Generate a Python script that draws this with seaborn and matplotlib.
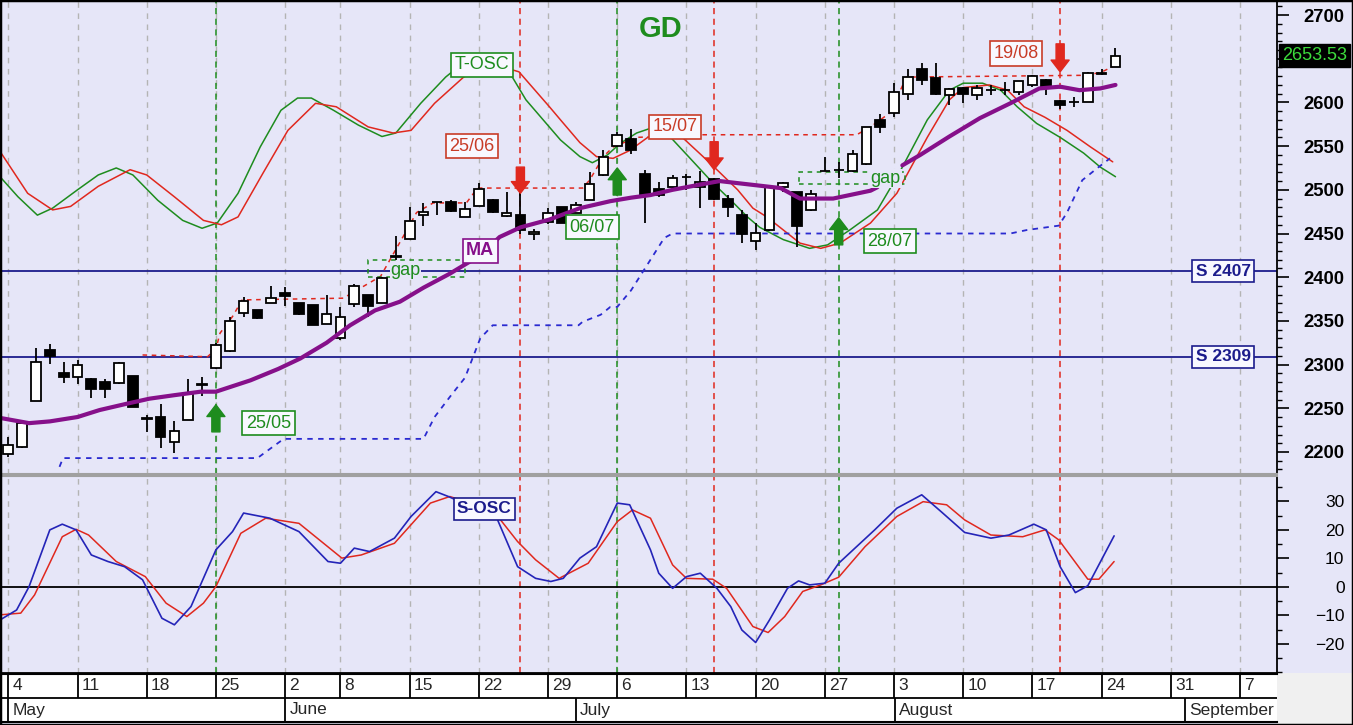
import numpy as np
import pandas as pd
import seaborn as sns
import matplotlib.pyplot as plt
from matplotlib.patches import Rectangle
from matplotlib.ticker import MultipleLocator

# --- Data ---
# daily candles, trading-day index 0 = 4 May
opens = [2198, 2206, 2258, 2317, 2290, 2286, 2284, 2280, 2279, 2287,
         2239, 2240, 2211, 2237, 2278, 2296, 2315, 2359, 2363, 2370,
         2382, 2370, 2368, 2347, 2330, 2369, 2380, 2371, 2424, 2444,
         2471, 2486, 2486, 2469, 2481, 2488, 2470, 2471, 2449, 2463,
         2480, 2473, 2488, 2517, 2550, 2558, 2518, 2501, 2503, 2515,
         2503, 2512, 2489, 2471, 2441, 2454, 2503, 2497, 2477, 2522,
         2523, 2521, 2529, 2580, 2588, 2610, 2638, 2628, 2608, 2616,
         2608, 2614, 2614, 2612, 2620, 2626, 2602, 2601, 2601, 2634, 2641]
highs = [2217, 2233, 2319, 2324, 2303, 2305, 2285, 2284, 2303, 2287,
         2242, 2255, 2236, 2284, 2286, 2325, 2355, 2377, 2363, 2390,
         2389, 2371, 2368, 2380, 2366, 2392, 2380, 2400, 2447, 2480,
         2485, 2486, 2488, 2486, 2508, 2490, 2497, 2502, 2455, 2479,
         2480, 2486, 2520, 2545, 2566, 2570, 2523, 2509, 2517, 2518,
         2522, 2513, 2494, 2477, 2462, 2504, 2509, 2498, 2500, 2538,
         2532, 2546, 2572, 2587, 2622, 2638, 2645, 2645, 2616, 2618,
         2620, 2620, 2623, 2624, 2631, 2627, 2603, 2606, 2635, 2638, 2662]
lows = [2194, 2204, 2258, 2301, 2279, 2278, 2262, 2262, 2278, 2251,
        2223, 2205, 2199, 2237, 2264, 2295, 2314, 2355, 2352, 2370,
        2367, 2357, 2345, 2347, 2328, 2366, 2355, 2370, 2420, 2444,
        2459, 2471, 2475, 2469, 2481, 2473, 2469, 2450, 2443, 2461,
        2462, 2473, 2488, 2516, 2549, 2541, 2462, 2492, 2500, 2500,
        2479, 2488, 2469, 2439, 2431, 2453, 2498, 2435, 2476, 2521,
        2513, 2520, 2528, 2565, 2583, 2603, 2620, 2609, 2597, 2599,
        2603, 2608, 2609, 2609, 2618, 2608, 2593, 2595, 2600, 2631, 2640]
closes = [2208, 2233, 2303, 2310, 2286, 2300, 2272, 2272, 2302, 2251,
          2238, 2217, 2224, 2268, 2277, 2322, 2350, 2373, 2353, 2376,
          2378, 2358, 2345, 2358, 2355, 2390, 2367, 2399, 2423, 2464,
          2475, 2486, 2476, 2478, 2501, 2475, 2473, 2454, 2452, 2474,
          2462, 2483, 2507, 2537, 2563, 2545, 2494, 2494, 2514, 2515,
          2509, 2489, 2480, 2450, 2451, 2503, 2508, 2459, 2495, 2522,
          2523, 2541, 2572, 2572, 2612, 2629, 2626, 2610, 2615, 2610,
          2616, 2614, 2614, 2624, 2630, 2618, 2597, 2601, 2634, 2632, 2653.53]

# moving average (None = break in the line)
ma_days = [-0.6, 1.5, 3.0, 5.0, 6.6, 8.5, 10.2, 12.0, 13.9, 15.0, 17.5, 19.5,
           21.1, 23.0, 24.7, 26.5, 28.3, 30.0, 31.9, 34.1, 35.5, 37.0, 39.1,
           41.3, 43.5, 45.0, 46.4, 48.0, 50.0, 51.4, 53.6, 55.8, 57.2, 59.6,
           62.3, 62.8, 63.7, 64.6, 65.9, 68.0, 70.2, 72.4, 74.5, 76.0, 77.4,
           78.9, 80.0]
ma_vals = [2239, 2233, 2235, 2240, 2248, 2255, 2261, 2265, 2269, 2269, 2282,
           2295, 2307, 2325, 2345, 2362, 2372, 2388, 2404, 2425, 2446, 2457,
           2466, 2479, 2487, 2491, 2494, 2500, 2506, 2510, 2506, 2502, 2490,
           2490, 2499, 2503, None, 2528, 2540, 2561, 2582, 2599, 2616, 2618,
           2614, 2616, 2620]

# T-OSC (two lines drawn on the price scale)
tosc_g_days = [-0.6, 0.7, 2.1, 3.2, 5.0, 6.5, 7.8, 9.0, 10.8, 12.6, 14.0, 15.1,
               16.6, 18.2, 19.7, 20.9, 21.9, 23.5, 25.3, 27.0, 28.0, 29.8, 31.6,
               33.0, 34.5, 36.0, 37.4, 39.9, 41.3, 42.2, 43.3, 44.2, 45.4, 46.7,
               47.8, 49.5, 50.9, 52.4, 53.4, 54.3, 56.0, 57.9, 59.2, 60.8, 62.8,
               64.4, 66.4, 68.0, 69.0, 70.4, 71.7, 72.9, 74.3, 76.0, 77.7, 78.9,
               80.0]
tosc_g_vals = [2515, 2492, 2471, 2479, 2500, 2517, 2525, 2517, 2488, 2465, 2456,
               2462, 2496, 2549, 2591, 2605, 2605, 2591, 2574, 2561, 2565, 2599,
               2629, 2647, 2650, 2640, 2603, 2557, 2538, 2531, 2540, 2553, 2565,
               2572, 2561, 2532, 2508, 2485, 2469, 2457, 2443, 2433, 2437, 2454,
               2477, 2520, 2580, 2614, 2622, 2622, 2614, 2595, 2576, 2560, 2542,
               2526, 2515]
tosc_r_days = [-0.6, 1.4, 3.2, 4.5, 6.5, 8.8, 10.0, 12.0, 14.1, 15.4, 16.6, 18.4,
               20.2, 22.2, 23.7, 26.0, 27.8, 29.1, 30.8, 32.9, 35.0, 36.9, 39.1,
               39.9, 41.3, 42.5, 43.7, 44.9, 46.2, 47.4, 48.7, 50.2, 51.2, 52.7,
               53.8, 54.8, 57.2, 58.7, 60.1, 62.3, 64.2, 66.4, 68.0, 69.0, 70.9,
               72.2, 73.4, 74.9, 76.5, 78.2, 79.8]
tosc_r_vals = [2544, 2496, 2477, 2481, 2504, 2523, 2517, 2492, 2465, 2460, 2469,
               2519, 2568, 2599, 2595, 2572, 2565, 2568, 2599, 2629, 2644, 2635,
               2595, 2580, 2554, 2538, 2536, 2545, 2560, 2565, 2560, 2538, 2523,
               2500, 2479, 2469, 2439, 2433, 2439, 2462, 2496, 2560, 2603, 2617,
               2620, 2614, 2595, 2583, 2568, 2549, 2532]

# trailing resistance (red dotted) and support (blue dotted)
res_days = [9.7, 14.4, 15.0, 15.3, 16.2, 16.9, 24.2, 26.9, 28.8, 29.5, 30.7,
            33.1, 33.9, 41.5, 42.0, 43.0, 43.7, 45.4, 50.2, 61.3, 62.3, 63.7,
            64.9, 77.6, 78.9, 79.8, 80.3]
res_vals = [2311, 2309, 2318, 2336, 2355, 2374, 2376, 2401, 2454, 2474, 2485,
            2485, 2502, 2502, 2511, 2538, 2549, 2560, 2563, 2563, 2572, 2588,
            2629, 2631, 2634, 2641, 2651]
sup_days = [3.7, 3.95, 18.0, 18.6, 19.9, 30.0, 30.8, 32.0, 33.0, 34.1, 35.0,
            41.2, 41.5, 42.8, 43.5, 44.0, 45.0, 46.4, 47.4, 48.0, 72.4, 73.6,
            75.9, 76.5, 77.6, 78.7, 79.6]
sup_vals = [2183, 2193, 2193, 2200, 2215, 2215, 2240, 2265, 2285, 2330, 2345,
            2345, 2349, 2357, 2366, 2366, 2385, 2420, 2445, 2450, 2450, 2454,
            2459, 2474, 2511, 2525, 2536]

support_levels = [2407, 2309]
last_price = 2653.53

# S-OSC (lower panel)
sosc_b_days = [-0.6, 0.6, 1.5, 3.0, 3.9, 4.9, 6.0, 7.2, 8.4, 9.7, 11.1, 12.0,
               13.2, 15.0, 16.2, 17.0, 18.9, 21.0, 23.1, 24.0, 25.0, 26.1, 27.9,
               29.1, 30.9, 31.8, 33.5, 35.3, 36.8, 38.1, 39.2, 40.1, 41.3, 42.5,
               44.0, 44.9, 46.4, 47.0, 48.0, 49.0, 50.0, 51.2, 52.2, 53.0, 54.0,
               55.0, 56.3, 57.1, 57.9, 59.0, 60.0, 62.6, 64.2, 66.0, 67.4, 69.1,
               71.0, 72.3, 74.1, 75.0, 76.0, 77.1, 78.0, 79.9]
sosc_b_vals = [-11.6, -8.1, 0.1, 20, 22, 20, 11.2, 8.9, 7.1, 2.5, -11, -13.3,
               -6.9, 13, 19.4, 25.9, 24.1, 19.4, 8.9, 8.3, 13.6, 12.4, 17.1, 24.7,
               33.4, 31.7, 28, 24.1, 7.1, 3.0, 1.9, 3.0, 10.1, 14.1, 29.4, 28.8,
               13, 4.8, -0.5, 3.6, 4.8, -0.5, -6.9, -15.1, -19.5, -11.6, -0.5,
               2.1, 0.7, 1.3, 8.3, 20, 27.6, 32.3, 26.4, 19.1, 17.1, 18.2, 22,
               20, 7.1, -2, 0.4, 17.9]
sosc_r_days = [-0.6, 0.9, 1.9, 3.9, 4.9, 5.8, 7.8, 9.9, 11.4, 12.9, 14.1, 15.0,
               16.8, 18.6, 21.0, 24.1, 25.5, 27.9, 30.5, 31.9, 35.0, 36.8, 38.1,
               39.8, 41.9, 44.0, 45.1, 46.4, 48.0, 49.0, 50.9, 51.9, 53.8, 54.9,
               56.1, 57.4, 58.7, 60.0, 61.9, 64.2, 66.1, 67.8, 69.1, 71.0, 73.3,
               74.9, 75.9, 78.0, 78.8, 79.9]
sosc_r_vals = [-9.8, -9.2, -2.8, 17.6, 20.2, 18.2, 8.9, 3.6, -5.7, -10.4, -5.7,
               0.1, 18.8, 24.1, 22.3, 10.1, 11.2, 15.3, 29.4, 31.7, 27, 15.9, 9.5,
               3.0, 8.3, 22.9, 27.0, 24.1, 7.7, 3.0, 2.7, -0.5, -13.9, -16, -10.4,
               -1.6, 0.7, 3.4, 14.1, 24.7, 29.9, 28.8, 23.5, 18.2, 17.6, 20, 16.5,
               2.7, 2.7, 8.9]

# signals: arrows given as (tail, tip) in price units
buy_days = [15, 44, 60]
buy_labels = ['25/05', '06/07', '28/07']
buy_arrows = [(2223, 2254), (2494, 2525), (2437, 2468)]
sell_days = [37, 51, 76]
sell_labels = ['25/06', '15/07', '19/08']
sell_arrows = [(2526, 2496), (2555, 2523), (2667, 2635)]

# gaps: start day, end day, low, high
gaps = [(26.0, 33.0, 2400, 2420), (57.1, 64.8, 2507, 2520)]

# time axis
week_days = [0, 5, 10, 15, 20, 24, 29, 34, 39, 44, 49, 54, 59, 64, 69, 74, 79, 84, 89]
week_labels = ['4', '11', '18', '25', '2', '8', '15', '22', '29', '6', '13', '20',
               '27', '3', '10', '17', '24', '31', '7']
month_days = [0, 20, 41, 64.07, 85]
month_labels = ['May', 'June', 'July', 'August', 'September']

# --- Style ---
sns.set_style('white')
plt.rcParams['font.family'] = ['Liberation Sans', 'DejaVu Sans']

BG = '#e6e6f8'
GREEN = '#1e8c1e'
RED = '#e0281e'
RED_TXT = '#c83c28'
NAVY = '#1c1c8c'
PURPLE = '#86108a'
XLIM = (-0.6, 91.67)

W, H = 1353, 725


def fig_box(x0, y0, x1, y1):
    return [x0 / W, 1 - y1 / H, (x1 - x0) / W, (y1 - y0) / H]


fig = plt.figure(figsize=(W / 100, H / 100), dpi=100, facecolor=BG)
ax = fig.add_axes(fig_box(0, 0, 1277, 474))
axo = fig.add_axes(fig_box(0, 476, 1277, 673))
axd = fig.add_axes(fig_box(0, 674, 1277, 722))

fig.add_artist(Rectangle((1277 / W, 0), 1 - 1277 / W, 1 - 673 / H,
                         transform=fig.transFigure, fc='#f0f0f0', ec='none', zorder=0))

for a in (ax, axo):
    a.set_facecolor(BG)
    for d in week_days:
        a.axvline(d, color='#b4b4b4', lw=1, ls=(0, (4, 4)), zorder=1)
    for d in buy_days:
        a.axvline(d, color=GREEN, lw=1.1, ls=(0, (4, 3)), zorder=1.5)
    for d in sell_days:
        a.axvline(d, color=RED, lw=1.1, ls=(0, (4, 3)), zorder=1.5)

# --- Main panel ---
for lvl in support_levels:
    ax.axhline(lvl, color=NAVY, lw=1.3, zorder=2)

sns.lineplot(x=tosc_g_days, y=tosc_g_vals, ax=ax, color=GREEN, lw=1.1, zorder=2)
sns.lineplot(x=tosc_r_days, y=tosc_r_vals, ax=ax, color=RED, lw=1.1, zorder=2)
sns.lineplot(x=res_days, y=res_vals, ax=ax, color=RED, lw=1.1,
             linestyle=(0, (3, 3)), zorder=2)
sns.lineplot(x=sup_days, y=sup_vals, ax=ax, color='#2a2ad0', lw=1.3,
             linestyle=(0, (3, 3)), zorder=2)

for d0, d1, lo, hi in gaps:
    ax.add_patch(Rectangle((d0, lo), d1 - d0, hi - lo, fill=False, ec=GREEN,
                           lw=1.1, ls=(0, (3, 3)), zorder=2))

o = np.array(opens, dtype=float)
h = np.array(highs, dtype=float)
l = np.array(lows, dtype=float)
c = np.array(closes, dtype=float)
days = np.arange(len(o))
ax.vlines(days, l, h, color='black', lw=1.3, zorder=3)
ax.bar(days, np.abs(c - o), bottom=np.minimum(o, c), width=0.7,
       color=np.where(c >= o, 'white', 'black'), edgecolor='black',
       linewidth=1.3, zorder=4)

ma = pd.DataFrame({'day': ma_days, 'ma': pd.to_numeric(pd.Series(ma_vals), errors='coerce')})
ma['seg'] = ma['ma'].isna().cumsum()
ma = ma.dropna()
sns.lineplot(data=ma, x='day', y='ma', units='seg', estimator=None, ax=ax,
             color=PURPLE, lw=3, zorder=5)

arrow_style = 'simple,head_length=0.65,head_width=1.0,tail_width=0.45'
for d, (tail, tip) in zip(buy_days, buy_arrows):
    ax.annotate('', xy=(d, tip), xytext=(d, tail),
                arrowprops=dict(arrowstyle=arrow_style, fc=GREEN, ec=GREEN,
                                mutation_scale=13, shrinkA=0, shrinkB=0), zorder=6)
for d, (tail, tip) in zip(sell_days, sell_arrows):
    ax.annotate('', xy=(d, tip), xytext=(d, tail),
                arrowprops=dict(arrowstyle=arrow_style, fc=RED, ec=RED,
                                mutation_scale=13, shrinkA=0, shrinkB=0), zorder=6)


def tag(a, x, y, s, col, weight='normal', size=13, fc='#f8f8ff'):
    a.text(x, y, s, ha='center', va='center', fontsize=size, color=col,
           fontweight=weight, zorder=8,
           bbox=dict(boxstyle='square,pad=0.2', fc=fc, ec=col, lw=1.2))


buy_label_pos = [(18.8, 2233), (42.2, 2457), (63.7, 2441)]
sell_label_pos = [(33.5, 2550), (48.2, 2572), (72.8, 2656)]
for s, (x, y) in zip(buy_labels, buy_label_pos):
    tag(ax, x, y, s, GREEN)
for s, (x, y) in zip(sell_labels, sell_label_pos):
    tag(ax, x, y, s, RED_TXT)
tag(ax, 34.2, 2643, 'T-OSC', GREEN)
tag(ax, 34.1, 2430, 'MA', PURPLE, weight='bold')
for lvl in support_levels:
    tag(ax, 87.8, lvl, f'S {lvl}', NAVY, weight='bold', size=12.5)

ax.text(28.7, 2408, 'gap', ha='center', va='center', fontsize=13, color=GREEN,
        zorder=7, bbox=dict(boxstyle='square,pad=0.05', fc=BG, ec='none'))
ax.text(63.4, 2513, 'gap', ha='center', va='center', fontsize=13, color=GREEN,
        zorder=7, bbox=dict(boxstyle='square,pad=0.05', fc=BG, ec='none'))

ax.text(0.517, 0.939, 'GD', transform=ax.transAxes, ha='center', va='center',
        fontsize=21, fontweight='bold', color=GREEN)

ax.text(1.004, last_price, f'{last_price:.2f}', transform=ax.get_yaxis_transform(),
        ha='left', va='center', fontsize=13, color='#3cdc3c', clip_on=False,
        zorder=9, bbox=dict(boxstyle='square,pad=0.15', fc='black', ec='black'))

ax.set_xlim(*XLIM)
ax.set_ylim(2174.8, 2717.2)
ax.set_xlabel('')
ax.set_ylabel('')
ax.set_xticks([])
ax.yaxis.tick_right()
price_ticks = np.arange(2200, 2701, 50)
ax.set_yticks(price_ticks)
# the 2650 label sits under the last-price tag in the reference
ax.set_yticklabels(['' if v == 2650 else str(v) for v in price_ticks])
ax.yaxis.set_minor_locator(MultipleLocator(10))
ax.tick_params(axis='y', which='major', right=True, left=False, length=8.6,
               width=1.2, direction='out', pad=40, labelsize=13.3, colors='black')
ax.tick_params(axis='y', which='minor', right=True, left=False, length=3.6,
               width=1.0, direction='out', colors='black')
for t in ax.get_yticklabels():
    t.set_ha('right')
    t.set_fontweight('bold')
for side, col, lw in [('left', 'black', 2), ('top', 'black', 2),
                      ('right', 'black', 1.3), ('bottom', '#a0a0a0', 1.5)]:
    ax.spines[side].set_visible(True)
    ax.spines[side].set_color(col)
    ax.spines[side].set_linewidth(lw)

# --- Lower panel (S-OSC) ---
axo.axhline(0, color='black', lw=1.3, zorder=2)
sns.lineplot(x=sosc_r_days, y=sosc_r_vals, ax=axo, color=RED, lw=1.1, zorder=3)
sns.lineplot(x=sosc_b_days, y=sosc_b_vals, ax=axo, color='#2424b8', lw=1.2, zorder=3)
tag(axo, 34.4, 27.4, 'S-OSC', NAVY, weight='bold', size=12.5)

axo.set_xlim(*XLIM)
axo.set_ylim(-30.2, 38.9)
axo.set_xlabel('')
axo.set_ylabel('')
axo.set_xticks([])
axo.yaxis.tick_right()
axo.set_yticks(np.arange(-20, 31, 10))
axo.yaxis.set_minor_locator(MultipleLocator(5))
axo.tick_params(axis='y', which='major', right=True, left=False, length=8.6,
                width=1.2, direction='out', pad=40, labelsize=12.5, colors='black')
axo.tick_params(axis='y', which='minor', right=True, left=False, length=3.6,
                width=1.0, direction='out', colors='black')
for t in axo.get_yticklabels():
    t.set_ha('right')
for side, col, lw in [('left', 'black', 2), ('top', '#a0a0a0', 1.5),
                      ('right', 'black', 1.3), ('bottom', 'black', 1.3)]:
    axo.spines[side].set_visible(True)
    axo.spines[side].set_color(col)
    axo.spines[side].set_linewidth(lw)

# --- Date strip ---
axd.set_facecolor('white')
axd.set_xlim(*XLIM)
axd.set_ylim(0, 1)
axd.set_xticks([])
axd.set_yticks([])
axd.vlines(week_days, 0.5, 1, color='black', lw=1.3)
axd.vlines(month_days, 0, 0.5, color='black', lw=1.3)
axd.axhline(0.5, color='black', lw=1.3)
for d, s in zip(week_days, week_labels):
    axd.annotate(s, (d, 0.75), xytext=(3, 0), textcoords='offset points',
                 ha='left', va='center', fontsize=12.5, clip_on=True)
for d, s in zip(month_days, month_labels):
    axd.annotate(s, (d, 0.25), xytext=(3, 0), textcoords='offset points',
                 ha='left', va='center', fontsize=12.5, clip_on=True)
for side, vis in [('left', True), ('top', True), ('right', False), ('bottom', True)]:
    axd.spines[side].set_visible(vis)
    axd.spines[side].set_color('black')
    axd.spines[side].set_linewidth(1.5)

fig.add_artist(Rectangle((0, 0), 1, 1, transform=fig.transFigure, fill=False,
                         ec='black', lw=2.5, zorder=10))

fig.savefig('out.png', dpi=100, facecolor=BG)
